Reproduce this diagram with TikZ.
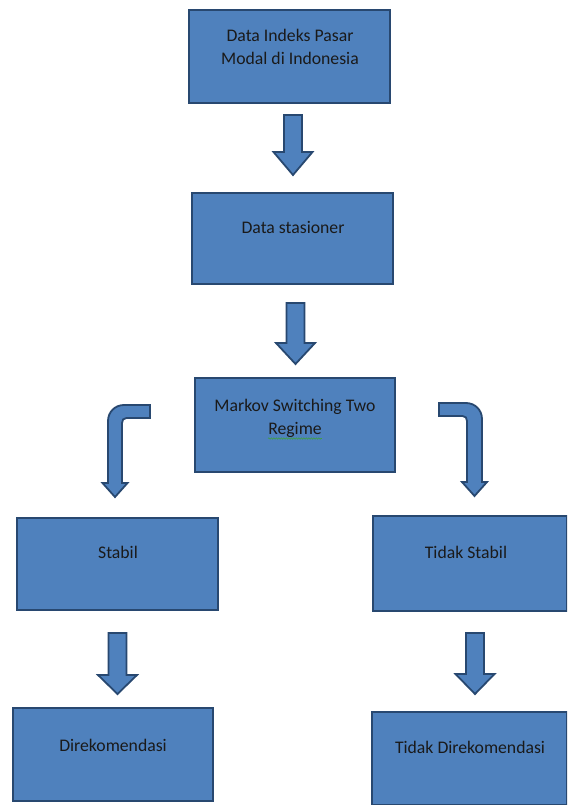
\documentclass[tikz,border=0pt]{standalone}
\usepackage{fontspec}
\setmainfont{Carlito}
\usetikzlibrary{decorations.pathmorphing}
\definecolor{boxfill}{HTML}{4F81BD}
\definecolor{boxline}{HTML}{284870}
\definecolor{txt}{HTML}{1A1A1A}
\definecolor{spell}{HTML}{3FA03F}
\tikzset{
  box/.style={draw=boxline, fill=boxfill, line width=2.6pt, inner sep=0pt},
  lbl/.style={text=txt, font=\fontsize{17.7}{22}\selectfont, inner sep=0pt, anchor=base},
  blockarrow/.style={draw=boxline, fill=boxfill, line width=1.8pt, line join=miter},
}
\newcommand\downblock[4]{% cx, top, base, tip
  \draw[blockarrow] ({#1-9},#2) -- ({#1+9},#2) -- ({#1+9},#3) -- ({#1+19.5},#3) -- (#1,#4)
    -- ({#1-19.5},#3) -- ({#1-9},#3) -- cycle;}
\begin{document}
\begin{tikzpicture}[x=1pt,y=-1pt]
\useasboundingbox (0,0) rectangle (567,805);
\begin{scope}
\clip (0,0) rectangle (567,805);
% boxes
\node[box, minimum width=201pt, minimum height=93pt] (b1) at (289.5,56.5) {};
\node[box, minimum width=201pt, minimum height=91pt] (b2) at (292.5,238.5) {};
\node[box, minimum width=200pt, minimum height=94pt] (b3) at (295,425) {};
\node[box, minimum width=201pt, minimum height=92pt] (b4) at (117.5,564) {};
\node[box, minimum width=194pt, minimum height=95pt] (b5) at (470,563.5) {};
\node[box, minimum width=200pt, minimum height=93pt] (b6) at (113,754.5) {};
\node[box, minimum width=195pt, minimum height=93pt] (b7) at (469.5,758.5) {};
% texts
\node[lbl] (t1a) at (290,42) {Data Indeks Pasar};
\node[lbl] (t1b) at (290,65) {Modal di Indonesia};
\node[lbl] (t2) at (293,233) {Data stasioner};
\node[lbl] (t3a) at (295,411) {Markov Switching Two};
\node[lbl] (t3b) at (295,434) {Regime};
\draw[spell, line width=0.6pt, decorate, decoration={snake, amplitude=0.7pt, segment length=2.5pt}]
  ([yshift=-4.5pt]t3b.base west) -- ([yshift=-4.5pt]t3b.base east);
\node[lbl] (t4) at (118,558) {Stabil};
\node[lbl] (t5) at (466,558) {Tidak Stabil};
\node[lbl] (t6) at (113,751) {Direkomendasi};
\node[lbl] (t7) at (470,753) {Tidak Direkomendasi};
% straight block arrows
\downblock{293}{115}{152}{175}
\downblock{295.5}{303}{343}{364}
\downblock{117.5}{633}{675}{694}
\downblock{475}{633}{674}{694}
% bent block arrows
\draw[blockarrow] (150,405) -- (124,405) .. controls (115,405) and (108,412) .. (108,421)
  -- (108,483) -- (102.5,483) -- (115,497) -- (127.5,483) -- (122,483) -- (122,423)
  .. controls (122,420) and (123.5,418) .. (126.5,418) -- (150,418) -- cycle;
\draw[blockarrow] (439,403) -- (466,403) .. controls (475,403) and (482,410) .. (482,419)
  -- (482,482) -- (487,482) -- (474.5,496) -- (462,482) -- (467,482) -- (467,421)
  .. controls (467,418) and (465.5,416) .. (462.5,416) -- (439,416) -- cycle;
\end{scope}
\end{tikzpicture}
\end{document}
